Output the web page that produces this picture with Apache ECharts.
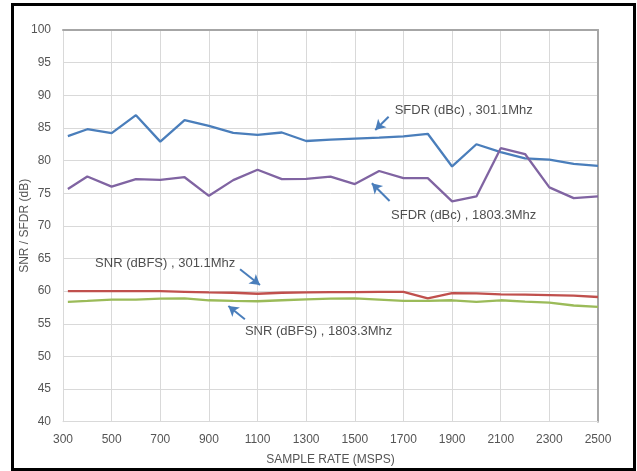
<!DOCTYPE html>
<html>
<head>
<meta charset="utf-8">
<script src="https://cdn.jsdelivr.net/npm/echarts@6/dist/echarts.min.js"></script>
<style>
html,body{margin:0;padding:0;background:#fff;}
#chart{width:637px;height:471px;}
</style>
</head>
<body>
<div id="chart"></div>
<script>
// Sample rate (MSPS)
var sampleRates = [320,400,500,600,700,800,900,1000,1100,1200,1300,1400,1500,1600,1700,1800,1900,2000,2100,2200,2300,2400,2500];
// SFDR (dBc), 301.1 MHz
var sfdr301 = [83.75,84.8,84.2,86.95,82.9,86.2,85.3,84.25,83.95,84.3,83.0,83.2,83.35,83.5,83.7,84.1,79.1,82.5,81.3,80.35,80.15,79.5,79.2];
// SFDR (dBc), 1803.3 MHz
var sfdr1803 = [75.65,77.55,76.0,77.15,77.05,77.45,74.6,77.0,78.6,77.15,77.2,77.55,76.4,78.4,77.3,77.3,73.75,74.5,81.9,81.0,75.9,74.25,74.5];
// SNR (dBFS), 301.1 MHz
var snr301 = [60.0,60.0,60.0,60.0,60.0,59.9,59.8,59.75,59.6,59.75,59.8,59.85,59.85,59.9,59.9,58.9,59.7,59.65,59.5,59.45,59.4,59.3,59.1];
// SNR (dBFS), 1803.3 MHz
var snr1803 = [58.35,58.5,58.7,58.7,58.85,58.9,58.6,58.5,58.45,58.6,58.75,58.85,58.9,58.7,58.5,58.5,58.6,58.35,58.6,58.4,58.25,57.8,57.6];

var seriesNames = ['SFDR (dBc) , 301.1Mhz','SFDR (dBc) , 1803.3Mhz','SNR (dBFS) , 301.1Mhz','SNR (dBFS) , 1803.3Mhz'];
// annotation text anchor (data coords, left edge / vertical center)
var annotText = [[1664,87.75],[1649,71.66],[432,64.26],[1048,53.78]];
// annotation arrows: [from, to] in data coords
var annotArrows = [
  [[1639,86.72],[1584,84.68]],
  [[1643,73.8],[1570,76.52]],
  [[1028,63.34],[1110,60.94]],
  [[1048,55.68],[980,57.72]]
];

var xTicks = {min:300, max:2500, interval:200};
var yTicks = {min:40, max:100, interval:5};

function pairs(ys){ return sampleRates.map(function(x,i){return [x, ys[i]];}); }

var colors = ['#4a7ebb','#8064a2','#c0504d','#9bbb59'];
var dataSets = [sfdr301, sfdr1803, snr301, snr1803];
var FONT = 'Liberation Sans';
var labelGray = '#555555';

var series = dataSets.map(function(d,i){
  return {
    name: seriesNames[i], type:'line', data: pairs(d), showSymbol:false, symbol:'none',
    lineStyle:{color:colors[i], width:2.3}, itemStyle:{color:colors[i]}, z:3, silent:true
  };
});

series.push({
  type:'scatter', name:'annot', symbolSize:0, silent:true,
  data: annotText.map(function(p,i){return {value:p, label:{show:true, formatter:seriesNames[i]}};}),
  label:{show:true, position:'right', distance:0, color:'#222222', fontFamily:FONT, fontSize:13},
  markLine:{
    silent:true, symbol:['none','arrow'], symbolSize:[9,10],
    lineStyle:{color:'#4a7ebb', width:2, type:'solid'},
    label:{show:false},
    data: annotArrows.map(function(a){return [{coord:a[0]},{coord:a[1]}];})
  }
});

var chart = echarts.init(document.getElementById('chart'), null, {renderer:'canvas'});
chart.setOption({
  animation:false,
  backgroundColor:'#fff',
  grid:{left:63, right:39, top:30, bottom:49.3, containLabel:false},
  xAxis:[{
    type:'value', min:xTicks.min, max:xTicks.max, interval:xTicks.interval,
    name:'SAMPLE RATE (MSPS)', nameLocation:'middle', nameGap:32, nameMoveOverlap:false,
    nameTextStyle:{color:labelGray, fontFamily:FONT, fontSize:12},
    axisLine:{show:true, lineStyle:{color:'#d9d9d9', width:1}},
    axisTick:{show:false},
    axisLabel:{color:labelGray, fontFamily:FONT, fontSize:12, margin:12, formatter:function(v){return String(v);}},
    splitLine:{show:true, lineStyle:{color:'#d9d9d9', width:1}}
  },{
    type:'value', position:'top', min:xTicks.min, max:xTicks.max,
    axisLine:{show:true, lineStyle:{color:'#a6a6a6', width:2}},
    axisTick:{show:false}, axisLabel:{show:false}, splitLine:{show:false}
  }],
  yAxis:[{
    type:'value', min:yTicks.min, max:yTicks.max, interval:yTicks.interval,
    name:'SNR / SFDR (dB)', nameLocation:'middle', nameGap:32, nameMoveOverlap:false,
    nameTextStyle:{color:labelGray, fontFamily:FONT, fontSize:12},
    axisLine:{show:true, lineStyle:{color:'#d9d9d9', width:1}},
    axisTick:{show:false},
    axisLabel:{color:labelGray, fontFamily:FONT, fontSize:12, margin:12},
    splitLine:{show:true, lineStyle:{color:'#d9d9d9', width:1}}
  },{
    type:'value', position:'right', min:yTicks.min, max:yTicks.max,
    axisLine:{show:true, onZero:false, lineStyle:{color:'#a6a6a6', width:2}},
    axisTick:{show:false}, axisLabel:{show:false}, splitLine:{show:false}
  }],
  graphic:[{
    type:'rect', silent:true, z:100,
    shape:{x:12.5, y:4.5, width:622, height:465},
    style:{fill:'none', stroke:'#000', lineWidth:3}
  }],
  series: series
});
</script>
</body>
</html>
